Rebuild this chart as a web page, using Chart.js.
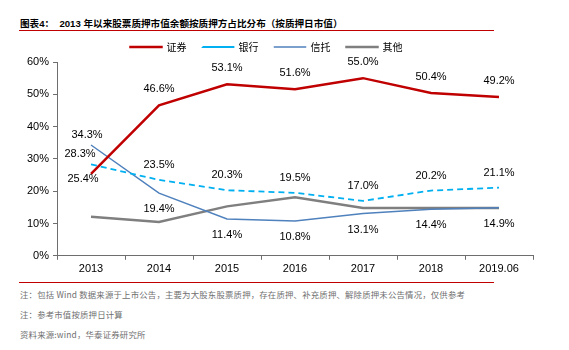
<!DOCTYPE html>
<html>
<head>
<meta charset="utf-8">
<script src="https://cdn.jsdelivr.net/npm/chart.js@4/dist/chart.umd.min.js"></script>
<style>
  body { margin: 0; background: #fff; width: 569px; height: 350px; position: relative; overflow: hidden; }
  #chartBox { position: absolute; left: 0; top: 0; width: 569px; height: 279px; }
  .title { position: absolute; left: 20px; top: 16px; font: bold 9.6px "Liberation Sans", "Noto Sans CJK SC", sans-serif; color: #000; white-space: nowrap; }
  .rule { position: absolute; left: 19px; width: 475px; height: 1px; background: #c00000; }
  .note { position: absolute; left: 20px; font: 8.4px "Noto Sans CJK SC", "Liberation Sans", sans-serif; color: #6f6f6f; white-space: nowrap; letter-spacing: 0.2px; }
</style>
</head>
<body>
<div class="title">图表4：&nbsp;&nbsp;2013 年以来股票质押市值余额按质押方占比分布（按质押日市值）</div>
<div class="rule" style="top:30px"></div>
<div id="chartBox"><canvas id="chart"></canvas></div>
<div class="rule" style="top:282px"></div>
<div class="note" style="top:288px">注：包括 Wind 数据来源于上市公告，主要为大股东股票质押，存在质押、补充质押、解除质押未公告情况，仅供参考</div>
<div class="note" style="top:308px">注：参考市值按质押日计算</div>
<div class="note" style="top:328px">资料来源:wind，华泰证券研究所</div>
<script>
var years = ["2013", "2014", "2015", "2016", "2017", "2018", "2019.06"];
var securities = [25.4, 46.6, 53.1, 51.6, 55.0, 50.4, 49.2];
var banks = [28.3, 23.5, 20.3, 19.5, 17.0, 20.2, 21.1];
var trusts = [34.3, 19.4, 11.4, 10.8, 13.1, 14.4, 14.9];
var others = [12.1, 10.5, 15.3, 18.1, 14.8, 14.8, 14.8];
var yTicks = [0, 10, 20, 30, 40, 50, 60];

var numFont = '"Liberation Sans", Arial, sans-serif';
var cjkFont = '"Noto Sans CJK SC", sans-serif';

// label offsets (dx, dy) from each point
function offsets(def, special) {
  return years.map(function (y, i) { return special[i] || def; });
}

var pointLabels = {
  id: "pointLabels",
  afterDatasetsDraw: function (chart) {
    var ctx = chart.ctx;
    ctx.save();
    ctx.font = "11px " + numFont;
    ctx.fillStyle = "#000";
    ctx.textAlign = "center";
    ctx.textBaseline = "middle";
    chart.data.datasets.forEach(function (ds, di) {
      if (!ds.labelOffsets) return;
      var meta = chart.getDatasetMeta(di);
      meta.data.forEach(function (pt, i) {
        var off = ds.labelOffsets[i];
        ctx.fillText(ds.data[i].toFixed(1) + "%", pt.x + off[0], pt.y + off[1]);
      });
    });
    ctx.restore();
  }
};

var axisColor = "#6e6e6e";

new Chart(document.getElementById("chart"), {
  type: "line",
  data: {
    labels: years,
    datasets: [
      {
        label: "证券",
        data: securities,
        borderColor: "#c00000",
        borderWidth: 2.5,
        labelOffsets: offsets([0, -16], { 0: [-8, 5] })
      },
      {
        label: "银行",
        data: banks,
        borderColor: "#00b0f0",
        borderWidth: 1.8,
        borderDash: [6, 4],
        labelOffsets: offsets([0, -15], { 0: [-11, -10] })
      },
      {
        label: "信托",
        data: trusts,
        borderColor: "#4f81bd",
        borderWidth: 1.5,
        labelOffsets: offsets([0, 16], { 0: [-4, -10] })
      },
      {
        label: "其他",
        data: others,
        borderColor: "#7f7f7f",
        borderWidth: 2.5
      }
    ]
  },
  options: {
    responsive: true,
    maintainAspectRatio: false,
    animation: false,
    elements: {
      point: { radius: 0, hoverRadius: 0 },
      line: { tension: 0, fill: false }
    },
    layout: { padding: { left: 0, right: 36, top: 26, bottom: 0 } },
    plugins: {
      tooltip: { enabled: false },
      legend: {
        position: "top",
        labels: {
          font: { family: cjkFont, size: 10 },
          color: "#333",
          boxWidth: 31,
          boxHeight: 0.01,
          padding: 16,
          generateLabels: function (chart) {
            return chart.data.datasets.map(function (ds, i) {
              return {
                text: ds.label,
                fillStyle: "transparent",
                strokeStyle: ds.borderColor,
                lineWidth: ds.borderWidth,
                lineDash: ds.borderDash || [],
                datasetIndex: i
              };
            });
          }
        }
      }
    },
    scales: {
      x: {
        offset: true,
        grid: { display: true, offset: true, drawOnChartArea: false, drawTicks: true, tickLength: 4, color: axisColor },
        border: { color: axisColor, width: 1 },
        ticks: { color: "#000", font: { family: numFont, size: 11 }, padding: 3, maxRotation: 0 }
      },
      y: {
        min: 0,
        max: 60,
        afterFit: function (s) { s.width = 57; },
        afterBuildTicks: function (s) { s.ticks = yTicks.map(function (v) { return { value: v }; }); },
        grid: { display: true, drawOnChartArea: false, drawTicks: true, tickLength: 4, color: axisColor },
        border: { color: axisColor, width: 1 },
        ticks: {
          color: "#000",
          font: { family: numFont, size: 11 },
          padding: 4,
          callback: function (v) { return v + "%"; }
        }
      }
    }
  },
  plugins: [pointLabels]
});
</script>
</body>
</html>
